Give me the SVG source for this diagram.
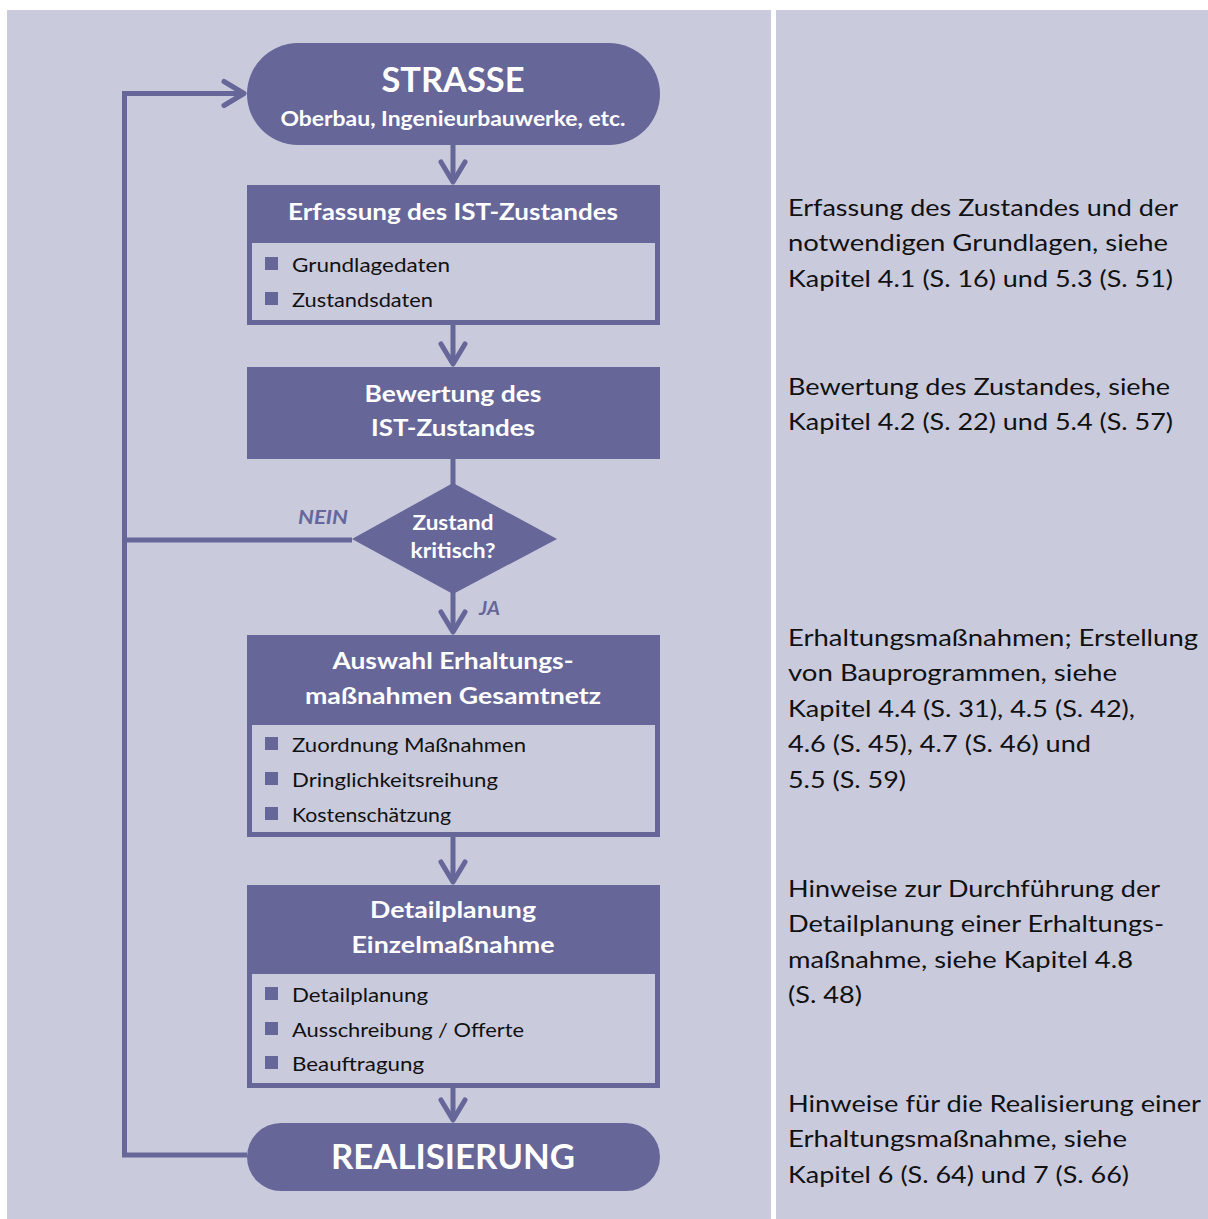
<svg xmlns="http://www.w3.org/2000/svg" width="1208" height="1219" viewBox="0 0 1208 1219">
<style>
.panel{fill:#CACADD}
.dark{fill:#666699}
.frame{fill:none;stroke:#666699;stroke-width:5}
.con{fill:none;stroke:#666699;stroke-width:5}
.hd{font-family:Lato,"Open Sans",sans-serif;font-weight:bold;fill:#ffffff;text-anchor:middle}
.it{font-family:Lato,"Open Sans",sans-serif;font-size:19px;fill:#111111}
.rt{font-family:Lato,"Open Sans",sans-serif;font-size:22.5px;fill:#111111}
.lbl{font-family:Lato,"Open Sans",sans-serif;font-weight:bold;font-style:italic;font-size:19px;fill:#666699}
</style>
<defs>
<marker id="chev" markerUnits="userSpaceOnUse" markerWidth="40" markerHeight="40" viewBox="-30 -20 40 40" refX="0" refY="0" orient="auto">
<path d="M-20,-12 L0,0 L-20,12" fill="none" stroke="#666699" stroke-width="5" stroke-linecap="round" stroke-linejoin="round"/>
</marker>
</defs>
<rect class="panel" x="7" y="10" width="764" height="1209"/>
<rect class="panel" x="776" y="10" width="432" height="1209"/>

<g id="connectors">
<path class="con" d="M247,1155 H124.5 V93.5 H244" marker-end="url(#chev)"/>
<path class="con" d="M352,540 H124.5"/>
<path class="con" d="M453,145 V182" marker-end="url(#chev)"/>
<path class="con" d="M453,325 V364" marker-end="url(#chev)"/>
<path class="con" d="M453,459 V485"/>
<path class="con" d="M453,592 V632" marker-end="url(#chev)"/>
<path class="con" d="M453,837 V882" marker-end="url(#chev)"/>
<path class="con" d="M453,1088 V1120" marker-end="url(#chev)"/>
<text class="lbl" x="298" y="524" textLength="50" lengthAdjust="spacingAndGlyphs">NEIN</text>
<text class="lbl" x="479" y="615" textLength="21" lengthAdjust="spacingAndGlyphs">JA</text>
</g>

<g id="strasse">
<rect class="dark" x="247" y="43" width="413" height="102" rx="51"/>
<text class="hd" x="453" y="92" font-size="34" textLength="143" lengthAdjust="spacingAndGlyphs">STRASSE</text>
<text class="hd" x="453" y="126" font-size="20" textLength="345" lengthAdjust="spacingAndGlyphs">Oberbau, Ingenieurbauwerke, etc.</text>
</g>

<g id="erfassung">
<rect class="frame" x="249.5" y="187.5" width="408" height="135"/>
<rect class="dark" x="247" y="185" width="413" height="58"/>
<text class="hd" x="453" y="220" font-size="23" textLength="330" lengthAdjust="spacingAndGlyphs">Erfassung des IST-Zustandes</text>
<rect class="dark" x="265" y="257" width="13" height="13"/>
<text class="it" x="292" y="272" textLength="158" lengthAdjust="spacingAndGlyphs">Grundlagedaten</text>
<rect class="dark" x="265" y="292" width="13" height="13"/>
<text class="it" x="292" y="307" textLength="141" lengthAdjust="spacingAndGlyphs">Zustandsdaten</text>
</g>

<g id="bewertung">
<rect class="dark" x="247" y="367" width="413" height="92"/>
<text class="hd" x="453" y="402" font-size="23" textLength="177" lengthAdjust="spacingAndGlyphs">Bewertung des</text>
<text class="hd" x="453" y="436" font-size="23" textLength="164" lengthAdjust="spacingAndGlyphs">IST-Zustandes</text>
</g>

<g id="entscheidung">
<polygon class="dark" points="453,483 557,539 453,594 352,539"/>
<text class="hd" x="453" y="530" font-size="20" textLength="81" lengthAdjust="spacingAndGlyphs">Zustand</text>
<text class="hd" x="453" y="558" font-size="20" textLength="85" lengthAdjust="spacingAndGlyphs">kritisch?</text>
</g>

<g id="auswahl">
<rect class="frame" x="249.5" y="637.5" width="408" height="197"/>
<rect class="dark" x="247" y="635" width="413" height="90"/>
<text class="hd" x="453" y="669" font-size="23" textLength="241" lengthAdjust="spacingAndGlyphs">Auswahl Erhaltungs-</text>
<text class="hd" x="453" y="704" font-size="23" textLength="296" lengthAdjust="spacingAndGlyphs">maßnahmen Gesamtnetz</text>
<rect class="dark" x="265" y="737" width="13" height="13"/>
<text class="it" x="292" y="752" textLength="234" lengthAdjust="spacingAndGlyphs">Zuordnung Maßnahmen</text>
<rect class="dark" x="265" y="772" width="13" height="13"/>
<text class="it" x="292" y="787" textLength="206" lengthAdjust="spacingAndGlyphs">Dringlichkeitsreihung</text>
<rect class="dark" x="265" y="807" width="13" height="13"/>
<text class="it" x="292" y="822" textLength="159" lengthAdjust="spacingAndGlyphs">Kostenschätzung</text>
</g>

<g id="detailplanung">
<rect class="frame" x="249.5" y="887.5" width="408" height="198"/>
<rect class="dark" x="247" y="885" width="413" height="89"/>
<text class="hd" x="453" y="918" font-size="23" textLength="166" lengthAdjust="spacingAndGlyphs">Detailplanung</text>
<text class="hd" x="453" y="953" font-size="23" textLength="203" lengthAdjust="spacingAndGlyphs">Einzelmaßnahme</text>
<rect class="dark" x="265" y="987" width="13" height="13"/>
<text class="it" x="292" y="1002" textLength="136" lengthAdjust="spacingAndGlyphs">Detailplanung</text>
<rect class="dark" x="265" y="1022" width="13" height="13"/>
<text class="it" x="292" y="1037" textLength="232" lengthAdjust="spacingAndGlyphs">Ausschreibung / Offerte</text>
<rect class="dark" x="265" y="1056" width="13" height="13"/>
<text class="it" x="292" y="1071" textLength="132" lengthAdjust="spacingAndGlyphs">Beauftragung</text>
</g>

<g id="realisierung">
<rect class="dark" x="247" y="1123" width="413" height="68" rx="34"/>
<text class="hd" x="453" y="1169" font-size="34" textLength="244" lengthAdjust="spacingAndGlyphs">REALISIERUNG</text>
</g>

<g id="erlaeuterungen">
<text class="rt" x="788" y="216" textLength="390" lengthAdjust="spacingAndGlyphs">Erfassung des Zustandes und der</text>
<text class="rt" x="788" y="251" textLength="380" lengthAdjust="spacingAndGlyphs">notwendigen Grundlagen, siehe</text>
<text class="rt" x="788" y="287" textLength="385" lengthAdjust="spacingAndGlyphs">Kapitel 4.1 (S. 16) und 5.3 (S. 51)</text>
<text class="rt" x="788" y="395" textLength="382" lengthAdjust="spacingAndGlyphs">Bewertung des Zustandes, siehe</text>
<text class="rt" x="788" y="430" textLength="385" lengthAdjust="spacingAndGlyphs">Kapitel 4.2 (S. 22) und 5.4 (S. 57)</text>
<text class="rt" x="788" y="646" textLength="410" lengthAdjust="spacingAndGlyphs">Erhaltungsmaßnahmen; Erstellung</text>
<text class="rt" x="788" y="681" textLength="329" lengthAdjust="spacingAndGlyphs">von Bauprogrammen, siehe</text>
<text class="rt" x="788" y="717" textLength="347" lengthAdjust="spacingAndGlyphs">Kapitel 4.4 (S. 31), 4.5 (S. 42),</text>
<text class="rt" x="788" y="752" textLength="303" lengthAdjust="spacingAndGlyphs">4.6 (S. 45), 4.7 (S. 46) und</text>
<text class="rt" x="788" y="788" textLength="118" lengthAdjust="spacingAndGlyphs">5.5 (S. 59)</text>
<text class="rt" x="788" y="897" textLength="372" lengthAdjust="spacingAndGlyphs">Hinweise zur Durchführung der</text>
<text class="rt" x="788" y="932" textLength="376" lengthAdjust="spacingAndGlyphs">Detailplanung einer Erhaltungs-</text>
<text class="rt" x="788" y="968" textLength="345" lengthAdjust="spacingAndGlyphs">maßnahme, siehe Kapitel 4.8</text>
<text class="rt" x="788" y="1003" textLength="74" lengthAdjust="spacingAndGlyphs">(S. 48)</text>
<text class="rt" x="788" y="1112" textLength="413" lengthAdjust="spacingAndGlyphs">Hinweise für die Realisierung einer</text>
<text class="rt" x="788" y="1147" textLength="339" lengthAdjust="spacingAndGlyphs">Erhaltungsmaßnahme, siehe</text>
<text class="rt" x="788" y="1183" textLength="341" lengthAdjust="spacingAndGlyphs">Kapitel 6 (S. 64) und 7 (S. 66)</text>
</g>
</svg>
